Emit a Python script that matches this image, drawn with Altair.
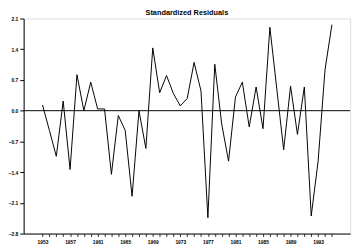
import altair as alt
import pandas as pd

years = list(range(1953, 1996))
residuals = [0.13, -0.45, -1.04, 0.22, -1.34, 0.82, 0.00, 0.65, 0.04, 0.04,
             -1.45, -0.11, -0.45, -1.95, 0.00, -0.86, 1.43, 0.41, 0.80, 0.39,
             0.11, 0.28, 1.10, 0.45, -2.44, 1.06, -0.30, -1.15, 0.31, 0.65,
             -0.37, 0.54, -0.41, 1.90, 0.50, -0.89, 0.56, -0.54, 0.54, -2.40,
             -1.15, 0.93, 1.96]
label_years = [1953, 1957, 1961, 1965, 1969, 1973, 1977, 1981, 1985, 1989, 1993]
y_ticks = [-2.8, -2.1, -1.4, -0.7, 0.0, 0.7, 1.4, 2.1]
title_text = "Standardized Residuals"

df = pd.DataFrame({"year": years, "resid": residuals})
zero_df = pd.DataFrame({"resid": [0.0]})

label_test = " || ".join(f"datum.value == {y}" for y in label_years)

x_scale = alt.Scale(domain=[1950.26, 1997.64], nice=False, zero=False)
y_scale = alt.Scale(domain=[-2.8, 2.1], nice=False, zero=False)

y_axis = alt.Axis(values=y_ticks, format=".1f", title=None, grid=False,
                  tickSize=4, labelFontSize=5, labelFont="Liberation Sans",
                  labelFontWeight="bold", labelPadding=2, labelOverlap=False,
                  labelFlush=False, domainColor="black", tickColor="black",
                  labelColor="black")

x_axis = alt.Axis(values=years, labelExpr=f"({label_test}) ? datum.value : ''",
                  title=None, grid=False, tickSize=3, labelFontSize=5,
                  labelFont="Liberation Sans", labelFontWeight="bold",
                  labelPadding=3, labelOverlap=False, labelFlush=False,
                  domainColor="black", tickColor="black", labelColor="black",
                  tickWidth=0.8)

line = alt.Chart(df).mark_line(color="black", strokeWidth=1).encode(
    x=alt.X("year:Q", scale=x_scale, axis=x_axis),
    y=alt.Y("resid:Q", scale=y_scale, axis=y_axis),
)

zero = alt.Chart(zero_df).mark_rule(color="black", strokeWidth=1).encode(
    y=alt.Y("resid:Q", scale=y_scale, axis=y_axis)
)

chart = alt.layer(zero, line).properties(
    width=334, height=220,
    title=alt.TitleParams(title_text, fontSize=7.5, font="Liberation Sans",
                          fontWeight="bold", color="black", offset=0),
    autosize=alt.AutoSizeParams(type="none"),
    padding={"left": 16, "top": 8, "right": 4, "bottom": 12},
).configure_view(stroke="black", strokeWidth=1).configure(background="white")

chart.save("out.html", embed_options={"renderer": "svg", "actions": False})
